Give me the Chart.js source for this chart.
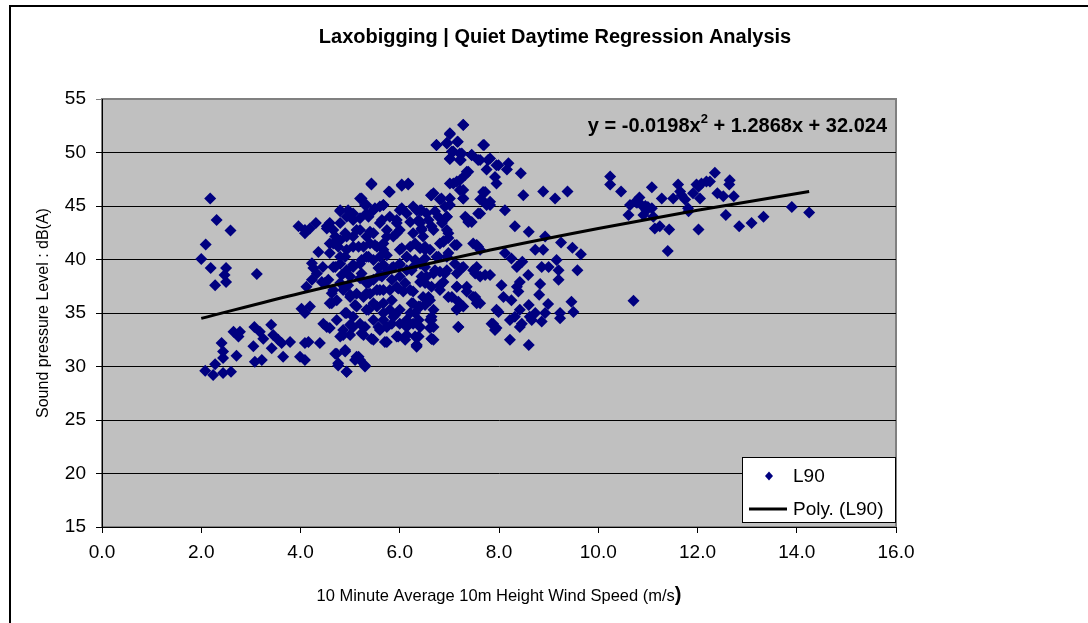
<!DOCTYPE html>
<html>
<head>
<meta charset="utf-8">
<title>Laxobigging | Quiet Daytime Regression Analysis</title>
<script src="https://cdn.jsdelivr.net/npm/chart.js@4.4.1/dist/chart.umd.min.js"></script>
<style>
  html, body { margin: 0; padding: 0; background: #fff; }
  #wrap { width: 1088px; height: 623px; }
</style>
</head>
<body>
<div id="wrap"><canvas id="regressionChart" width="1088" height="623"></canvas></div>
<script>
// Chart text
const chartTitle = 'Laxobigging | Quiet Daytime Regression Analysis';
const xAxisTitle = '10 Minute Average 10m Height Wind Speed (m/s';
const yAxisTitle = 'Sound pressure Level : dB(A)';
const equationParts = ['y = -0.0198x', '2', ' + 1.2868x + 32.024'];

// Axis ticks
const xTicks = [0, 2, 4, 6, 8, 10, 12, 14, 16];
const yTicks = [15, 20, 25, 30, 35, 40, 45, 50, 55];

// L90 readings [wind speed m/s, dB(A)], grouped by wind band
const calmReadings = [
    [2.18, 45.7], [2.31, 43.7], [2.59, 42.7], [2.09, 41.4], [2.0, 40.05], [2.19, 39.2], [2.50, 39.2], [2.47, 38.55],
    [2.50, 37.9], [2.28, 37.6], [3.12, 38.65], [2.65, 33.25], [2.78, 33.25], [2.75, 32.8], [2.41, 32.2], [2.44, 31.4],
    [2.44, 30.8], [2.71, 31.0], [2.28, 30.2], [2.08, 29.6], [2.24, 29.2], [2.44, 29.4], [2.60, 29.5], [3.07, 33.7],
    [3.18, 33.25], [3.41, 33.9], [3.25, 32.6], [3.45, 32.95], [3.55, 32.5], [3.42, 31.7], [3.62, 32.2], [3.79, 32.3],
    [3.05, 31.9], [3.65, 30.9], [3.08, 30.45], [3.22, 30.6], [3.99, 30.9], [4.09, 30.6], [4.09, 32.2], [4.16, 32.3],
    [4.39, 32.2], [4.46, 34.0], [4.02, 35.4], [4.09, 35.0], [4.19, 35.6], [4.12, 37.45], [4.23, 38.1], [4.26, 39.2],
    [4.23, 39.65], [4.33, 38.7], [4.43, 37.9], [4.49, 37.8], [4.36, 40.7], [3.96, 43.1], [4.09, 42.75], [4.19, 42.9],
    [4.31, 43.4], [4.09, 42.45], [4.45, 39.3]
];

const moderateReadings = [
    [5.43, 47.1], [5.78, 46.35], [6.04, 47.0], [6.17, 47.1], [6.63, 46.0], [5.23, 45.7], [4.80, 44.5], [4.96, 44.6],
    [5.30, 45.1], [5.50, 44.8], [5.67, 45.1], [6.04, 44.8], [6.27, 44.95], [6.44, 44.6], [4.59, 43.4], [5.06, 43.7],
    [5.37, 44.0], [5.64, 43.7], [5.94, 43.7], [6.21, 43.5], [6.58, 43.7], [4.53, 42.9], [4.70, 42.15], [4.90, 42.45],
    [5.13, 42.75], [5.40, 42.6], [5.74, 42.15], [5.94, 42.45], [6.44, 42.75], [4.76, 41.2], [5.17, 41.2], [5.50, 41.35],
    [6.04, 41.05], [6.31, 41.5], [6.51, 40.9], [4.90, 40.25], [5.37, 40.25], [5.67, 40.9], [6.14, 40.25], [6.31, 39.95],
    [4.70, 39.3], [5.06, 39.5], [5.23, 39.95], [5.57, 39.2], [5.84, 39.2], [6.00, 39.5], [4.83, 38.55], [5.23, 38.7],
    [5.64, 38.4], [6.24, 39.0], [6.51, 39.3], [4.56, 38.1], [4.96, 37.6], [5.37, 37.8], [5.84, 38.1], [6.11, 37.8],
    [6.44, 38.4], [4.63, 36.85], [5.00, 36.7], [5.33, 36.85], [5.60, 37.15], [5.97, 37.3], [6.27, 37.0], [6.58, 36.5],
    [4.63, 35.9], [5.10, 35.75], [5.47, 35.9], [5.84, 36.2], [6.24, 35.9], [6.51, 35.75], [4.90, 35.0], [5.37, 35.3],
    [5.67, 35.0], [5.90, 34.8], [6.21, 35.0], [6.64, 34.65], [4.53, 33.7], [5.00, 33.9], [5.30, 33.7], [5.57, 33.7],
    [5.84, 34.0], [6.14, 33.7], [6.41, 33.7], [4.86, 32.95], [5.23, 33.1], [5.43, 32.6], [5.70, 32.3], [5.94, 32.8],
    [6.11, 32.5], [6.34, 32.0], [6.64, 32.6], [4.70, 31.2], [4.90, 31.4], [4.76, 30.3], [5.10, 30.6], [5.17, 30.9],
    [5.30, 30.0], [4.93, 29.5]
];

const midReadings = [
    [7.28, 52.57], [7.01, 51.8], [6.74, 50.7], [6.95, 50.9], [7.16, 51.0], [7.05, 50.1], [7.01, 49.45], [7.21, 49.9],
    [7.21, 49.3], [7.45, 49.8], [7.68, 50.7], [7.58, 49.3], [7.78, 49.3], [7.95, 48.8], [7.35, 48.2], [7.08, 47.1],
    [7.21, 47.4], [7.28, 46.5], [7.28, 45.7], [7.68, 46.3], [7.62, 45.6], [7.82, 45.1], [7.35, 43.85], [7.45, 43.5],
    [7.58, 44.3], [7.55, 41.35], [7.62, 40.9], [7.15, 41.35], [6.68, 46.2], [6.81, 45.6], [7.01, 45.1], [6.95, 44.0],
    [6.85, 43.4], [6.98, 42.45], [6.88, 41.7], [7.11, 39.6], [7.28, 39.3], [7.48, 39.0], [7.62, 38.4], [7.35, 37.45],
    [7.15, 37.45], [7.05, 36.5], [7.15, 35.4], [7.28, 35.6], [7.48, 36.5], [7.55, 35.9], [7.18, 33.7], [7.88, 34.0],
    [7.95, 33.6], [7.95, 35.3], [6.61, 34.35], [6.68, 33.7], [6.64, 32.6], [6.34, 32.0], [6.31, 32.8], [6.14, 32.95],
    [6.14, 34.35], [6.00, 34.0], [5.97, 32.8], [5.74, 32.3], [5.74, 33.7], [5.47, 32.5], [5.27, 32.95], [5.20, 34.0],
    [5.00, 32.95], [4.86, 33.4], [4.93, 35.0], [5.06, 34.65], [5.33, 35.3], [5.13, 35.6], [4.73, 31.2], [4.90, 31.55],
    [4.76, 30.1], [4.93, 29.5], [5.13, 30.9], [5.20, 30.6], [5.30, 30.1], [5.60, 33.4], [5.67, 34.35], [5.47, 34.35],
    [5.54, 35.6], [5.67, 35.9], [5.80, 35.3], [5.87, 34.65], [6.00, 35.3], [6.27, 34.0], [6.31, 35.0], [6.27, 35.9],
    [6.41, 35.6], [6.47, 36.5], [6.61, 36.2], [6.64, 37.45], [6.81, 37.15], [6.88, 37.9], [6.68, 38.7], [6.54, 38.4],
    [6.41, 37.9], [6.21, 37.15], [6.07, 37.0], [5.94, 37.45], [6.00, 38.4], [5.80, 37.15], [5.67, 37.15], [5.54, 37.15],
    [5.40, 36.8], [5.27, 36.5], [5.13, 36.8], [5.00, 36.5], [4.86, 37.15], [4.73, 36.2], [4.59, 35.9], [4.66, 37.15],
    [4.80, 37.8], [5.00, 38.4], [5.20, 38.25], [5.33, 37.8], [5.47, 38.1], [5.60, 38.55], [5.74, 38.85], [5.67, 39.5],
    [5.87, 39.3], [6.00, 39.6], [6.14, 40.25], [6.00, 40.9], [6.21, 41.2], [6.41, 41.05], [6.61, 40.9], [6.74, 40.25],
    [6.95, 40.25], [6.95, 39.0], [6.81, 38.85], [6.41, 39.6], [6.27, 39.3], [6.14, 39.0], [5.74, 40.4], [5.60, 40.25],
    [5.47, 39.95], [5.33, 40.25], [5.20, 39.6], [5.06, 39.3], [4.93, 39.0], [4.80, 39.6], [4.66, 39.3], [4.80, 40.25],
    [4.93, 40.9], [5.06, 41.2], [5.27, 41.2], [5.40, 41.5], [5.54, 41.2], [5.67, 41.5], [5.87, 42.15], [6.00, 42.75],
    [5.94, 43.4], [5.74, 42.75], [5.60, 43.4], [5.47, 42.45], [5.33, 42.15], [5.20, 42.75], [5.06, 42.15], [4.93, 42.15],
    [4.80, 41.8], [4.66, 41.5], [4.66, 42.75], [4.80, 43.4], [4.93, 44.0], [5.06, 44.3], [5.20, 43.85], [5.33, 44.3],
    [5.47, 44.6], [5.60, 44.95], [5.80, 44.0], [6.00, 44.6], [6.14, 44.3], [6.34, 44.6], [6.54, 44.3], [6.41, 43.4],
    [6.27, 42.45], [6.47, 42.15], [6.68, 42.75], [6.81, 41.5], [4.80, 44.6], [5.20, 45.7], [5.33, 45.1], [5.43, 47.0],
    [5.80, 46.3], [6.04, 46.9], [6.17, 47.0], [5.67, 45.1], [4.53, 43.1], [4.59, 33.6], [4.73, 34.35], [4.80, 32.8],
    [5.06, 33.7], [4.59, 41.5], [4.59, 40.6]
];

const freshReadings = [
    [7.28, 52.6], [7.01, 51.7], [6.74, 50.7], [6.95, 50.85], [7.17, 51.0], [7.70, 50.7], [7.08, 50.1], [7.01, 49.4],
    [7.23, 49.3], [7.25, 49.9], [7.45, 49.75], [7.62, 49.3], [7.82, 49.45], [7.75, 48.4], [7.99, 48.8], [8.19, 49.0],
    [8.16, 48.4], [7.92, 47.7], [7.95, 47.1], [7.38, 48.2], [7.32, 47.9], [7.15, 47.3], [7.01, 47.1], [7.21, 46.5],
    [7.28, 45.7], [7.72, 46.3], [7.82, 45.4], [7.65, 45.6], [7.75, 45.1], [8.12, 44.6], [6.64, 46.0], [6.84, 45.7],
    [7.01, 45.7], [6.91, 44.95], [6.71, 44.5], [6.41, 44.6], [6.38, 43.7], [6.78, 44.0], [6.95, 44.0], [6.64, 43.1],
    [6.95, 42.75], [7.32, 44.0], [7.38, 43.5], [7.62, 44.3], [6.44, 42.9], [6.98, 42.0], [6.51, 41.2], [6.88, 41.65],
    [7.11, 41.35], [7.48, 41.5], [7.58, 41.2], [6.51, 40.1], [6.78, 40.25], [6.98, 40.6], [8.12, 40.6], [8.25, 40.1],
    [6.71, 39.0], [6.91, 38.7], [7.15, 38.7], [7.25, 39.2], [7.55, 39.3], [7.72, 38.55], [7.82, 38.55], [7.52, 38.7],
    [6.51, 37.8], [6.81, 37.6], [7.15, 37.45], [7.35, 37.0], [7.52, 36.5], [8.05, 37.6], [8.09, 36.5], [8.25, 36.2],
    [6.58, 36.4], [6.98, 36.5], [7.18, 36.05], [7.62, 35.9], [6.38, 35.6], [6.68, 35.3], [7.15, 35.3], [7.99, 35.1],
    [8.22, 34.35], [6.38, 34.35], [6.64, 34.35], [7.85, 34.0], [7.92, 33.4], [7.18, 33.7], [6.61, 33.6], [6.38, 32.8],
    [6.68, 32.5], [8.22, 32.5], [6.34, 31.85]
];

const strongReadings = [
    [8.44, 48.05], [8.49, 46.0], [8.89, 46.35], [9.13, 45.7], [9.38, 46.35], [8.32, 43.1], [8.60, 42.6], [8.93, 42.15],
    [8.89, 40.9], [8.73, 40.9], [9.25, 41.6], [9.48, 41.1], [9.65, 40.5], [9.16, 39.95], [8.47, 39.8], [8.36, 39.3],
    [8.86, 39.3], [9.00, 39.3], [9.20, 39.0], [9.58, 39.0], [9.20, 38.1], [8.59, 38.55], [8.42, 37.9], [8.39, 37.0],
    [8.83, 37.7], [8.81, 36.7], [8.60, 35.75], [8.99, 35.85], [9.46, 36.05], [8.42, 35.3], [8.32, 34.65], [8.62, 34.65],
    [8.73, 35.0], [8.86, 34.2], [8.93, 35.0], [9.23, 35.0], [9.23, 34.5], [9.50, 35.1], [8.42, 33.7], [8.60, 32.0],
    [8.46, 34.0], [8.66, 34.35], [8.36, 37.45]
];

const highReadings = [
    [10.24, 47.75], [10.24, 47.0], [10.46, 46.35], [11.08, 46.75], [10.83, 45.8], [10.64, 45.1], [10.61, 44.15], [10.87, 45.1],
    [10.97, 44.6], [11.08, 44.8], [10.91, 44.15], [11.11, 44.0], [11.28, 45.7], [11.51, 45.7], [11.61, 47.0], [11.65, 46.35],
    [11.75, 45.6], [11.81, 44.8], [11.91, 46.2], [12.02, 46.8], [12.08, 47.1], [12.18, 47.3], [12.25, 47.3], [12.05, 45.7],
    [12.35, 48.1], [12.40, 46.2], [12.52, 45.9], [12.65, 47.4], [12.64, 47.0], [12.73, 45.9], [12.57, 44.15], [11.14, 42.9],
    [11.24, 43.1], [11.43, 42.8], [12.02, 42.8], [11.40, 40.8], [10.71, 36.15], [12.84, 43.1], [13.09, 43.4], [13.33, 44.0],
    [13.90, 44.9], [14.25, 44.4], [11.68, 46.0], [11.98, 47.0], [11.82, 44.5], [10.78, 45.3], [11.00, 44.9], [10.75, 45.4],
    [10.95, 45.0]
];

// Poly. (L90) trendline
const trendX = [2.0, 4.0, 6.0, 8.0, 10.0, 12.0, 14.25];
const trendY = [34.5, 36.85, 39.0, 41.05, 42.9, 44.6, 46.35];

const fontFamily = '"Liberation Sans", Arial, Helvetica, sans-serif';
Chart.defaults.font.family = fontFamily;
Chart.defaults.color = '#000';

const l90Points = [].concat(calmReadings, moderateReadings, midReadings, freshReadings, strongReadings, highReadings)
    .map(([x, y]) => ({ x, y }));
const trendPoints = trendX.map((x, i) => ({ x, y: trendY[i] }));

// Excel-style frame, grey plot area, titles, equation and legend
const excelLook = {
    id: 'excelLook',
    beforeDraw(chart) {
        const { ctx, chartArea: a } = chart;
        ctx.save();
        ctx.fillStyle = '#fff';
        ctx.fillRect(0, 0, chart.width, chart.height);
        ctx.strokeStyle = '#000';
        ctx.lineWidth = 2;
        ctx.strokeRect(10, 6, chart.width + 40, chart.height + 40);
        ctx.fillStyle = '#c0c0c0';
        ctx.fillRect(a.left, a.top, a.right - a.left, a.bottom - a.top);
        ctx.strokeStyle = '#808080';
        ctx.lineWidth = 2;
        ctx.strokeRect(a.left, a.top, a.right - a.left, a.bottom - a.top);
        ctx.restore();
    },
    afterDraw(chart) {
        const { ctx, chartArea: a } = chart;
        ctx.save();
        ctx.fillStyle = '#000';

        // Title
        ctx.font = 'bold 20px ' + fontFamily;
        ctx.textAlign = 'center';
        ctx.textBaseline = 'middle';
        ctx.fillText(chartTitle, 555, 37);

        // X axis title, closing bracket bold as in the original
        ctx.font = '16.5px ' + fontFamily;
        const w1 = ctx.measureText(xAxisTitle).width;
        ctx.font = 'bold 20px ' + fontFamily;
        const w2 = ctx.measureText(')').width;
        let tx = (a.left + a.right) / 2 - (w1 + w2) / 2;
        ctx.textAlign = 'left';
        ctx.font = '16.5px ' + fontFamily;
        ctx.fillText(xAxisTitle, tx, 596);
        ctx.font = 'bold 20px ' + fontFamily;
        ctx.fillText(')', tx + w1, 595);

        // Trendline equation
        const ey = a.top + 27;
        let ex = a.right - 9;
        ctx.textAlign = 'right';
        ctx.font = 'bold 20px ' + fontFamily;
        ctx.fillText(equationParts[2], ex, ey);
        ex -= ctx.measureText(equationParts[2]).width;
        ctx.font = 'bold 13px ' + fontFamily;
        ctx.fillText(equationParts[1], ex, ey - 7);
        ex -= ctx.measureText(equationParts[1]).width;
        ctx.font = 'bold 20px ' + fontFamily;
        ctx.fillText(equationParts[0], ex, ey);

        // Legend box
        const [scatterSet, trendSet] = chart.data.datasets;
        const bw = 153, bh = 65;
        const bx = a.right - 1 - bw, by = a.bottom - 5 - bh;
        ctx.fillStyle = '#fff';
        ctx.fillRect(bx, by, bw, bh);
        ctx.strokeStyle = '#000';
        ctx.lineWidth = 1;
        ctx.strokeRect(bx + 0.5, by + 0.5, bw, bh);

        const r1 = by + 19, r2 = by + 52;
        ctx.fillStyle = scatterSet.pointBackgroundColor;
        ctx.beginPath();
        ctx.moveTo(bx + 27, r1 - 4.5);
        ctx.lineTo(bx + 31, r1);
        ctx.lineTo(bx + 27, r1 + 4.5);
        ctx.lineTo(bx + 23, r1);
        ctx.closePath();
        ctx.fill();

        ctx.strokeStyle = trendSet.borderColor;
        ctx.lineWidth = 3;
        ctx.beginPath();
        ctx.moveTo(bx + 7, r2);
        ctx.lineTo(bx + 45, r2);
        ctx.stroke();

        ctx.fillStyle = '#000';
        ctx.textAlign = 'left';
        ctx.font = '19px ' + fontFamily;
        ctx.fillText(scatterSet.label, bx + 51, r1 + 1);
        ctx.fillText(trendSet.label, bx + 51, r2 + 1);
        ctx.restore();
    }
};

new Chart(document.getElementById('regressionChart'), {
    type: 'scatter',
    data: {
        datasets: [{
            label: 'L90',
            data: l90Points,
            pointStyle: 'rectRot',
            pointRadius: 6,
            pointBackgroundColor: '#000080',
            pointBorderColor: '#000080',
            pointBorderWidth: 0,
            order: 1
        }, {
            type: 'line',
            label: 'Poly. (L90)',
            data: trendPoints,
            borderColor: '#000',
            borderWidth: 3,
            pointRadius: 0,
            fill: false,
            cubicInterpolationMode: 'monotone',
            order: 0
        }]
    },
    options: {
        responsive: false,
        animation: false,
        devicePixelRatio: 1,
        layout: { padding: { top: 99, right: 192, bottom: 0, left: 0 } },
        plugins: {
            legend: { display: false },
            title: { display: false },
            tooltip: { enabled: false }
        },
        scales: {
            x: {
                type: 'linear',
                min: 0,
                max: 16,
                afterBuildTicks: (s) => { s.ticks = xTicks.map(v => ({ value: v })); },
                afterFit: (s) => { s.height = 96; },
                border: { display: true, color: '#000', width: 1 },
                grid: { drawOnChartArea: false, color: '#000', tickLength: 6 },
                ticks: {
                    color: '#000',
                    font: { size: 19 },
                    padding: 8,
                    maxRotation: 0,
                    autoSkip: false,
                    callback: (v) => Number(v).toFixed(1)
                }
            },
            y: {
                min: 15,
                max: 55,
                afterBuildTicks: (s) => { s.ticks = yTicks.map(v => ({ value: v })); },
                afterFit: (s) => { s.width = 102; },
                border: { display: true, color: '#000', width: 1 },
                grid: {
                    color: (c) => (c.tick && c.tick.value === 55 ? '#808080' : '#000'),
                    lineWidth: 1,
                    tickLength: 6
                },
                ticks: { color: '#000', font: { size: 19 }, padding: 10 },
                title: {
                    display: true,
                    text: yAxisTitle,
                    color: '#000',
                    font: { size: 16 },
                    padding: { top: 34, bottom: 0 }
                }
            }
        }
    },
    plugins: [excelLook]
});
</script>
</body>
</html>
